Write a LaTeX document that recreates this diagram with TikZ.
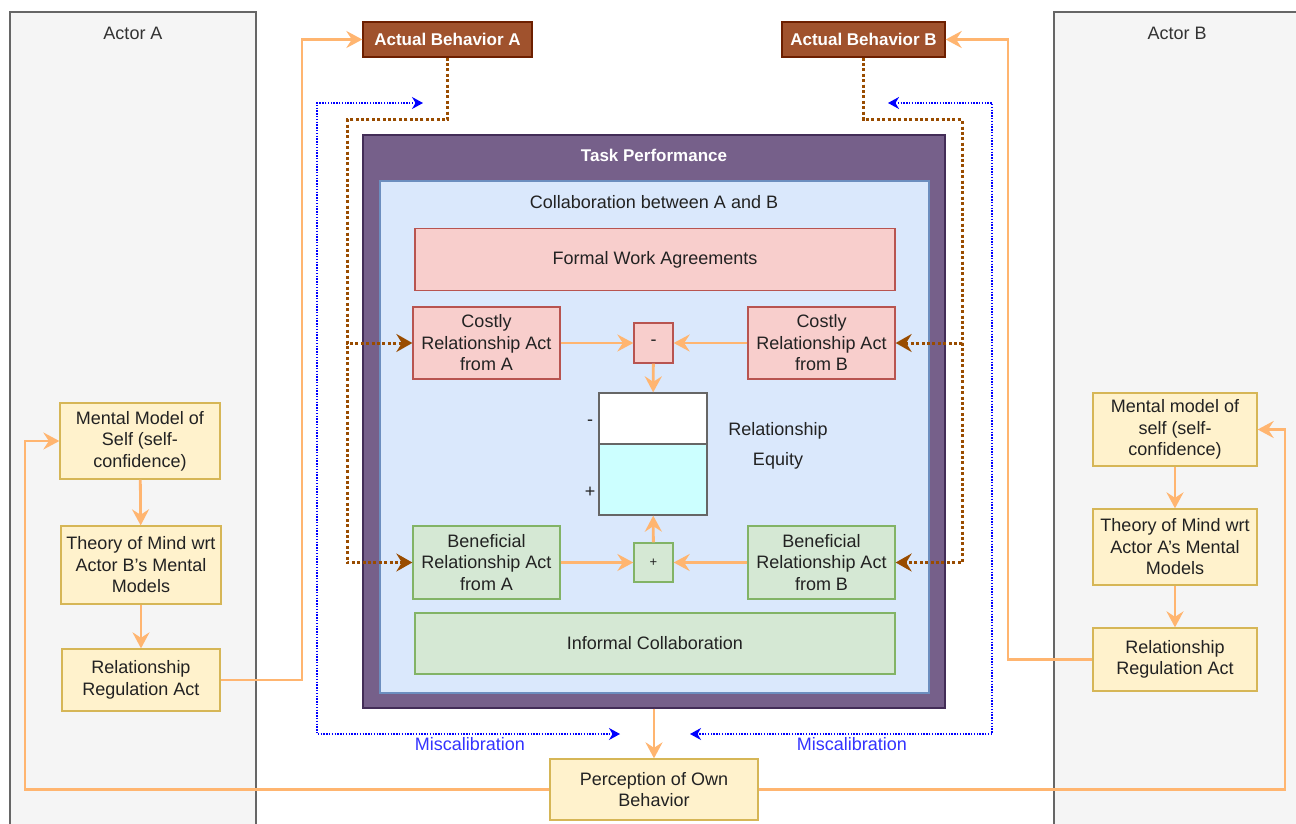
\documentclass[tikz,border=0pt]{standalone}
\usepackage{fontspec}
\setmainfont{Liberation Sans}
\usetikzlibrary{arrows.meta,positioning}
\definecolor{lanefill}{HTML}{F5F5F5}
\definecolor{lanedraw}{HTML}{666666}
\definecolor{lanetext}{HTML}{333333}
\definecolor{txt}{HTML}{222222}
\definecolor{yfill}{HTML}{FFF2CC}
\definecolor{ydraw}{HTML}{D6B656}
\definecolor{gfill}{HTML}{D5E8D4}
\definecolor{gdraw}{HTML}{82B366}
\definecolor{rfill}{HTML}{F8CECC}
\definecolor{rdraw}{HTML}{B85450}
\definecolor{bfill}{HTML}{DAE8FC}
\definecolor{bdraw}{HTML}{6C8EBF}
\definecolor{pfill}{HTML}{76608A}
\definecolor{pdraw}{HTML}{432D57}
\definecolor{actfill}{HTML}{A0522D}
\definecolor{actdraw}{HTML}{6D1F00}
\definecolor{flow}{HTML}{FFB570}
\definecolor{brownline}{HTML}{994C00}
\definecolor{missblue}{HTML}{0000FF}
\definecolor{misstext}{HTML}{3333FF}
\definecolor{eqfill}{HTML}{CCFFFF}
\begin{document}
\begin{tikzpicture}[x=1pt, y=-1pt,
  font=\fontsize{18}{21.5}\selectfont,
  block/.style={rectangle, draw, align=center, text=txt, line width=1.3pt, inner sep=1pt},
  lane/.style={rectangle, draw=lanedraw, fill=lanefill, line width=1.2pt},
  mental/.style={block, fill=yfill, draw=ydraw},
  costly/.style={block, fill=rfill, draw=rdraw},
  benefit/.style={block, fill=gfill, draw=gdraw},
  boldtext/.style={font=\fontsize{17}{21.5}\selectfont\bfseries},
  actual/.style={block, fill=actfill, draw=actdraw, text=white, boldtext},
  flowline/.style={draw=flow, line width=2.8pt, -{Stealth[length=16pt, width=17pt, inset=5.5pt]}},
  actline/.style={draw=brownline, line width=3pt, dash pattern=on 3pt off 2.4pt, -{Stealth[length=16pt, width=18pt, inset=5.5pt, fill=brownline]}},
  missline/.style={draw=missblue, line width=1.3pt, dash pattern=on 1.4pt off 1.4pt, {Stealth[length=11pt, width=12pt, inset=3.5pt]}-{Stealth[length=11pt, width=12pt, inset=3.5pt]}}
]
\useasboundingbox (0,0) rectangle (1296,824);
\fill[white] (0,0) rectangle (1296,824);

\node[lane, minimum width=246pt, minimum height=818pt] (laneA) at (133,421) {};
\node[lane, minimum width=246pt, minimum height=818pt] (laneB) at (1177,421) {};
\node[text=lanetext] (titleA) at (133,33) {Actor A};
\node[text=lanetext] (titleB) at (1177,33) {Actor B};

\node[actual, minimum width=169pt, minimum height=35pt] (actA) at (447.5,39.5) {Actual Behavior A};
\node[actual, minimum width=163pt, minimum height=35pt] (actB) at (863.5,39.5) {Actual Behavior B};

\node[block, fill=pfill, draw=pdraw, minimum width=582pt, minimum height=573pt] (task) at (654,421.5) {};
\node[text=white, boldtext] (taskT) at (654,155) {Task Performance};
\node[block, fill=bfill, draw=bdraw, minimum width=549pt, minimum height=512pt] (collab) at (654.5,437) {};
\node[text=txt] (collabT) at (654,202) {Collaboration between A and B};

\node[costly, minimum width=480pt, minimum height=62pt] (formal) at (655,259.5) {Formal Work Agreements};
\node[costly, minimum width=147pt, minimum height=72pt] (costA) at (486.5,343) {Costly\\Relationship Act\\from A};
\node[costly, minimum width=147pt, minimum height=72pt] (costB) at (821.5,343) {Costly\\Relationship Act\\from B};
\node[costly, minimum width=39pt, minimum height=40pt] (minus) at (653.5,343) {-};

\node[block, fill=white, draw=lanedraw, minimum width=108pt, minimum height=51pt] (eqTop) at (653,418.5) {};
\node[block, fill=eqfill, draw=lanedraw, minimum width=108pt, minimum height=71pt] (eqBot) at (653,479.5) {};
\node[text=txt] (eqMinus) at (590,423) {-};
\node[text=txt] (eqPlus) at (590,492) {+};
\node[text=txt, align=center, font=\fontsize{18}{30}\selectfont] (eqT) at (778,446) {Relationship\\Equity};

\node[benefit, minimum width=147pt, minimum height=73pt] (benA) at (486.5,562.5) {Beneficial\\Relationship Act\\from A};
\node[benefit, minimum width=147pt, minimum height=73pt] (benB) at (821.5,562.5) {Beneficial\\Relationship Act\\from B};
\node[benefit, minimum width=39pt, minimum height=39pt, font=\fontsize{13}{16}\selectfont] (plus) at (653.5,562.5) {+};
\node[benefit, minimum width=480pt, minimum height=61pt] (informal) at (655,643.5) {Informal Collaboration};

\node[mental, minimum width=160pt, minimum height=76pt] (mmA) at (140,441) {Mental Model of\\Self (self-\\confidence)};
\node[mental, minimum width=160pt, minimum height=78pt] (thA) at (141,565) {Theory of Mind wrt\\Actor B's Mental\\Models};
\node[mental, minimum width=158pt, minimum height=62pt] (rraA) at (141,680) {Relationship\\Regulation Act};
\node[mental, minimum width=164pt, minimum height=73pt] (mmB) at (1175,429.5) {Mental model of\\self (self-\\confidence)};
\node[mental, minimum width=164pt, minimum height=76pt] (thB) at (1175,547) {Theory of Mind wrt\\Actor A's Mental\\Models};
\node[mental, minimum width=164pt, minimum height=63pt] (rraB) at (1175,659.5) {Relationship\\Regulation Act};
\node[mental, minimum width=208pt, minimum height=61pt] (percep) at (654,789.5) {Perception of Own\\Behavior};

\coordinate (missA1) at (423,103);
\coordinate (missA2) at (620,734);
\coordinate (missB1) at (888,103);
\coordinate (missB2) at (690,734);
\node[text=misstext] (missAT) at (470,744) {Miscalibration};
\node[text=misstext] (missBT) at (852,744) {Miscalibration};

\draw[missline] (missA1) -- (317,103) -- (317,734) -- (missA2);
\draw[missline] (missB1) -- (992,103) -- (992,734) -- (missB2);

\draw[actline] (actA.south) |- (347,120) |- (costA.west);
\draw[actline] (actA.south) |- (347,120) |- (benA.west);
\draw[actline] (actB.south) |- (962,120) |- (costB.east);
\draw[actline] (actB.south) |- (962,120) |- (benB.east);

\draw[flowline] (costA) -- (minus);
\draw[flowline] (costB) -- (minus);
\draw[flowline] (minus) -- (eqTop);
\draw[flowline] (benA) -- (plus);
\draw[flowline] (benB) -- (plus);
\draw[flowline] (plus) -- (eqBot);
\draw[flowline] (mmA) -- (thA);
\draw[flowline] (thA) -- (rraA);
\draw[flowline] (mmB) -- (thB);
\draw[flowline] (thB) -- (rraB);
\draw[flowline] (rraA.east) -- (302,680) |- (actA.west);
\draw[flowline] (rraB.west) -- (1008,659.5) |- (actB.east);
\draw[flowline] (task.south) -- (percep.north);
\draw[flowline] (percep.west) -- (25,789.5) |- (mmA.west);
\draw[flowline] (percep.east) -- (1285,789.5) |- (mmB.east);
\end{tikzpicture}
\end{document}
